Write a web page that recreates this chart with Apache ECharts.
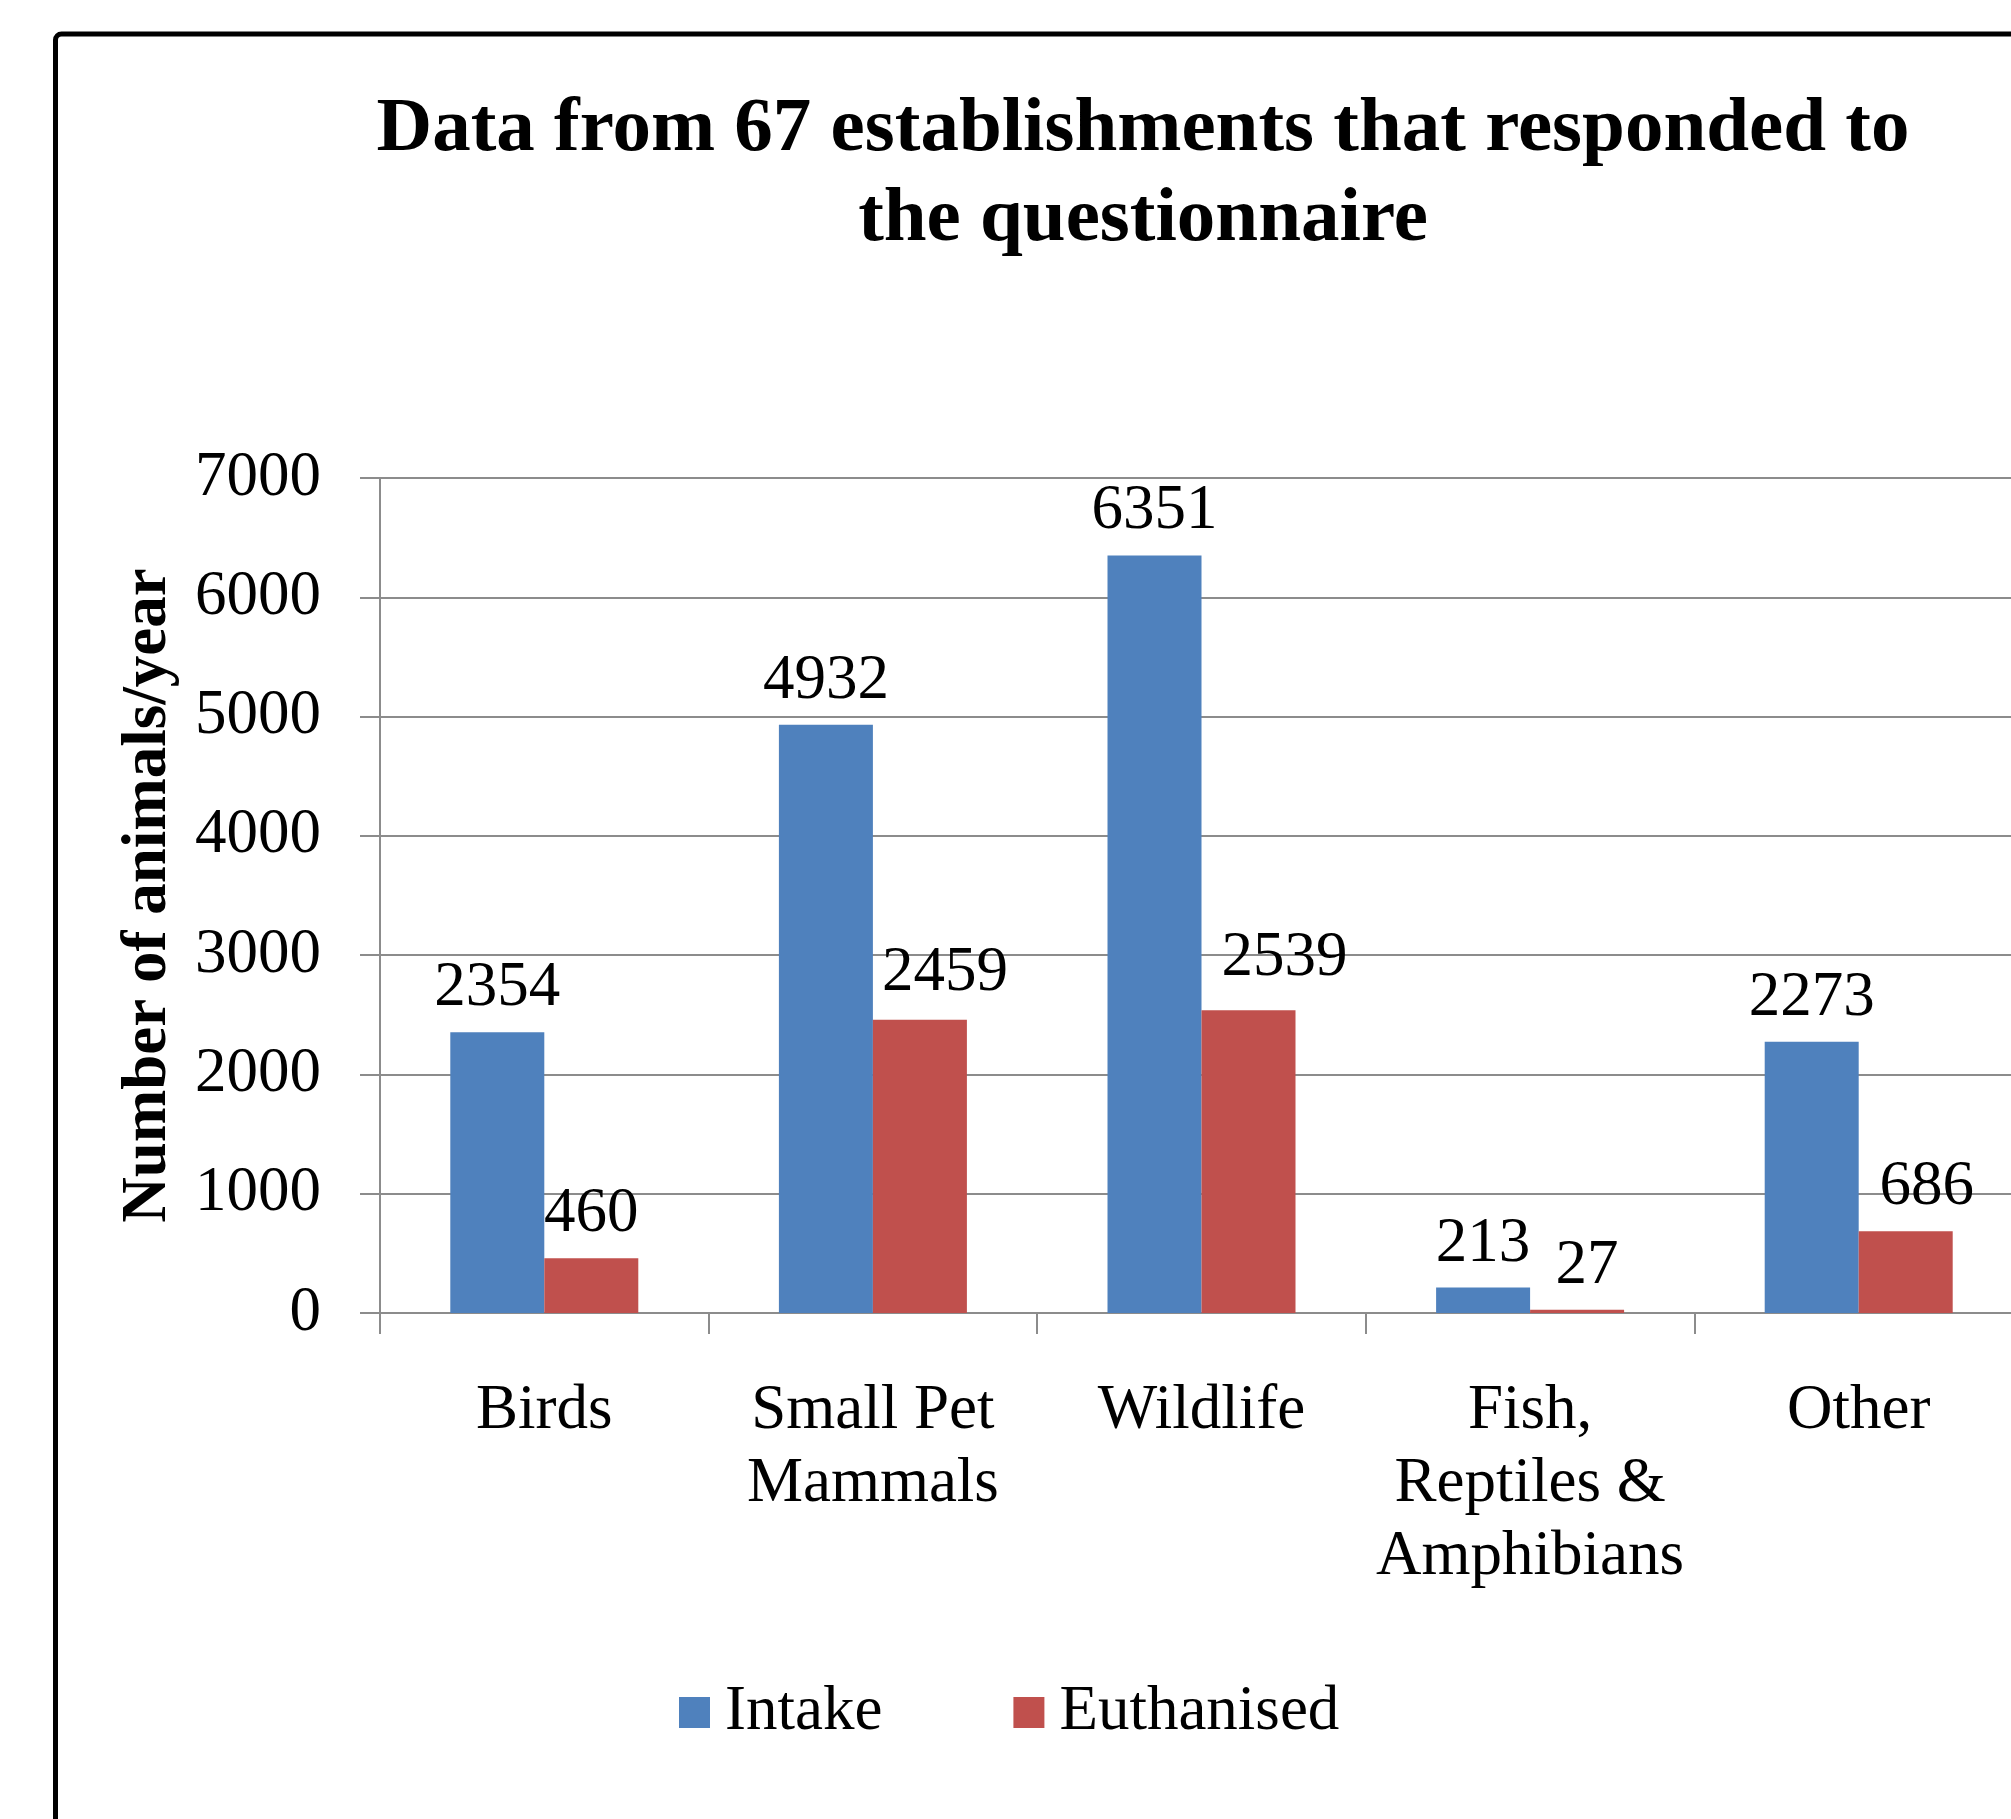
<!DOCTYPE html>
<html>
<head>
<meta charset="utf-8">
<script src="https://cdn.jsdelivr.net/npm/echarts@6/dist/echarts.min.js"></script>
<style>
html,body{margin:0;padding:0;background:#fff;}
#chart{width:2011px;height:1819px;}
</style>
</head>
<body>
<div id="chart"></div>
<script>
const categories = ['Birds', 'Small Pet\nMammals', 'Wildlife', 'Fish,\nReptiles &\nAmphibians', 'Other'];
const intake = [2354, 4932, 6351, 213, 2273];
const euthanised = [460, 2459, 2539, 27, 686];
const seriesNames = ['Intake', 'Euthanised'];
const titleText = 'Data from 67 establishments that responded to\nthe questionnaire';
const yAxisName = 'Number of animals/year';

const FONT = '"Liberation Serif", "Times New Roman", serif';
const GRID = '#8c8c8c';
// label nudges (style only) for the Euthanised labels, as placed in the original
const euthNudgeX = [0, 25, 36, 10, 21];
const euthNudgeY = [0, -3, -8, 0, 0];

const chart = echarts.init(document.getElementById('chart'), null, {renderer: 'canvas'});
const labelStyle = {
  show: true, position: 'top', distance: 12,
  fontFamily: FONT, fontSize: 63, lineHeight: 63, color: '#000'
};
chart.setOption({
  backgroundColor: '#fff',
  animation: false,
  title: {
    text: titleText,
    left: 1143, top: 85, padding: 0,
    textAlign: 'center',
    textStyle: {fontFamily: FONT, fontSize: 77, fontWeight: 'bold', lineHeight: 90, color: '#000'}
  },
  graphic: [{
    type: 'rect', silent: true,
    shape: {x: 55.5, y: 34, width: 3000, height: 3000, r: 6},
    style: {fill: 'none', stroke: '#000', lineWidth: 5}
  }],
  legend: {
    data: seriesNames,
    left: 679, top: 1676, padding: 0,
    icon: 'rect', itemWidth: 31, itemHeight: 31, itemGap: 131,
    textStyle: {fontFamily: FONT, fontSize: 63, lineHeight: 63, color: '#000', padding: [10, 0, 0, 10]}
  },
  grid: {left: 380, top: 478, width: 1643, height: 835, containLabel: false, outerBoundsMode: 'none'},
  xAxis: {
    type: 'category', data: categories,
    axisLine: {show: true, lineStyle: {color: GRID, width: 2}},
    axisTick: {show: true, alignWithLabel: false, length: 21, lineStyle: {color: GRID, width: 2}},
    axisLabel: {interval: 0, margin: 62, fontFamily: FONT, fontSize: 63, lineHeight: 73, color: '#000'}
  },
  yAxis: {
    type: 'value', min: 0, max: 7000, interval: 1000,
    name: yAxisName, nameLocation: 'middle', nameGap: 200, nameRotate: 90,
    nameTextStyle: {fontFamily: FONT, fontSize: 63, fontWeight: 'bold', color: '#000'},
    axisLine: {show: true, lineStyle: {color: GRID, width: 2}},
    axisTick: {show: true, length: 20, lineStyle: {color: GRID, width: 2}},
    splitLine: {show: true, lineStyle: {color: GRID, width: 2}},
    axisLabel: {margin: 59, fontFamily: FONT, fontSize: 63, color: '#000', formatter: v => String(v)}
  },
  series: [
    {name: seriesNames[0], type: 'bar', data: intake, barWidth: 94, barGap: '0%',
     itemStyle: {color: '#4F81BD'}, label: labelStyle},
    {name: seriesNames[1], type: 'bar', barWidth: 94, barGap: '0%',
     data: euthanised.map((v, i) => ({value: v, label: {offset: [euthNudgeX[i], euthNudgeY[i]]}})),
     itemStyle: {color: '#C0504D'}, label: labelStyle}
  ]
});
</script>
</body>
</html>
